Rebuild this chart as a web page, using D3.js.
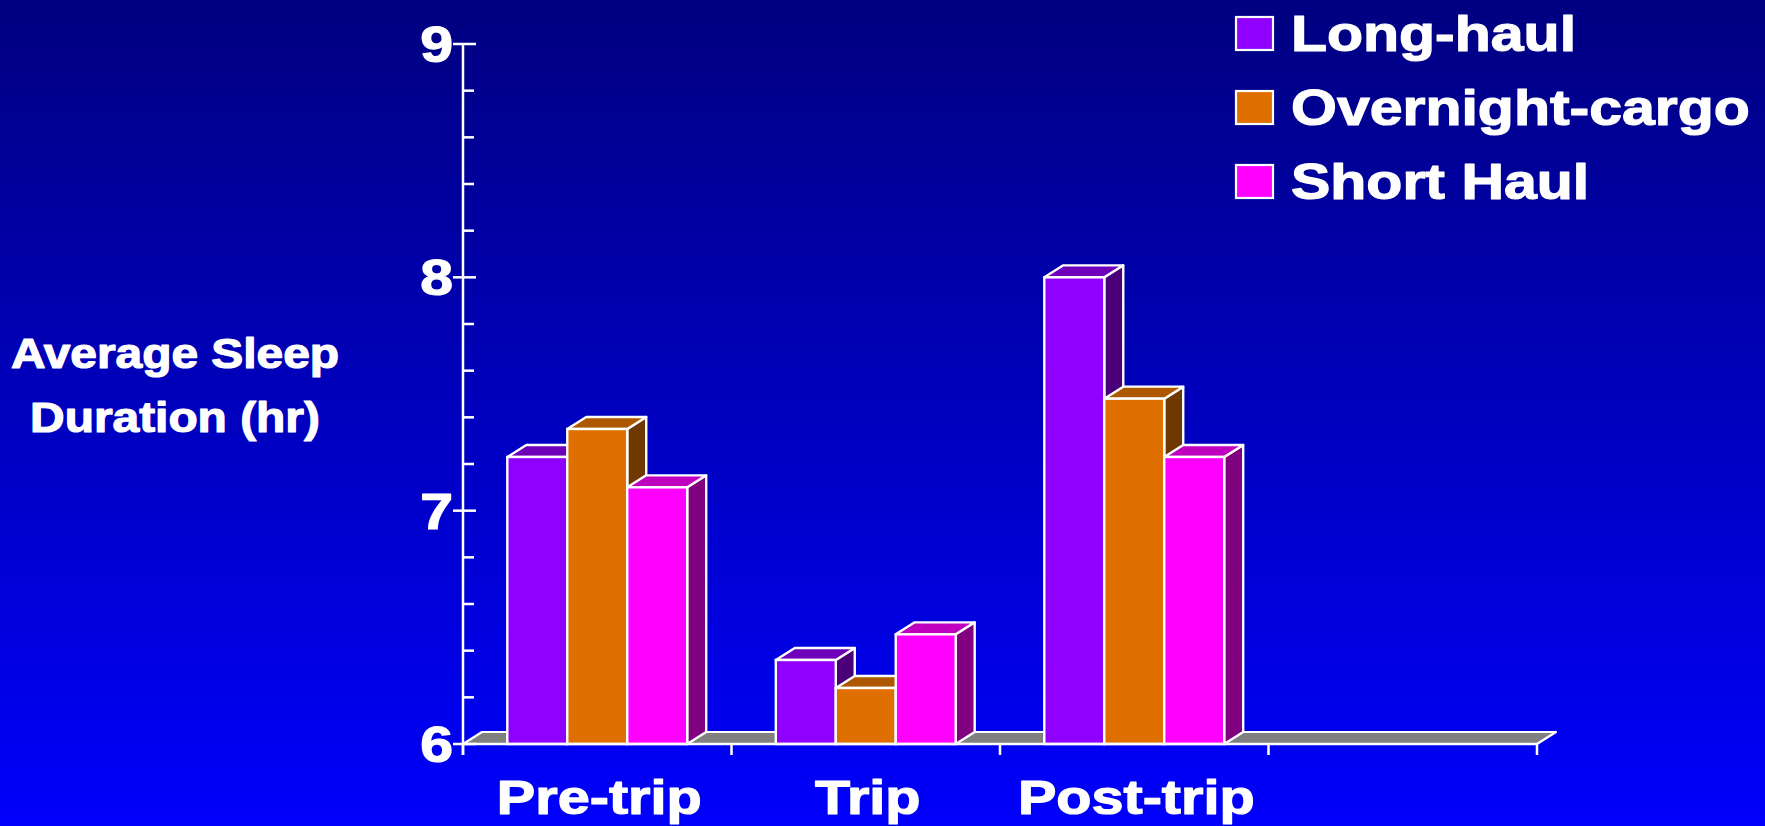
<!DOCTYPE html>
<html>
<head>
<meta charset="utf-8">
<script src="https://cdn.jsdelivr.net/npm/d3@7"></script>
<style>
  html, body { margin: 0; padding: 0; background: #000080; }
  svg { display: block; }
  text { font-family: "Liberation Sans", Arial, Helvetica, sans-serif; font-weight: bold; fill: #ffffff; stroke: #ffffff; stroke-width: 1.2px; stroke-linejoin: round; }
</style>
</head>
<body>
<svg id="chart" width="1765" height="826"></svg>
<script>
// ---- data ----
const categories = ["Pre-trip", "Trip", "Post-trip", ""];
const seriesNames = ["Long-haul", "Overnight-cargo", "Short Haul"];
const longHaul = [7.23, 6.36, 8.00];
const overnightCargo = [7.35, 6.24, 7.48];
const shortHaul = [7.10, 6.47, 7.23];
const yMajorTicks = [6, 7, 8, 9];
const yMinorTicks = [6.2, 6.4, 6.6, 6.8, 7.2, 7.4, 7.6, 7.8, 8.2, 8.4, 8.6, 8.8];
const yTitle = ["Average Sleep", "Duration (hr)"];

const seriesValues = [longHaul, overnightCargo, shortHaul];
const frontColors = ["#8f00ff", "#df7000", "#ff00ff"];
const topColors   = ["#6e00ba", "#ad5800", "#bf00bf"];
const sideColors  = ["#4a0078", "#6e3800", "#800080"];

// ---- layout ----
const W = 1765, H = 826;
const svg = d3.select("#chart");
const defs = svg.append("defs");
const grad = defs.append("linearGradient").attr("id", "bg").attr("x1", 0).attr("y1", 0).attr("x2", 0).attr("y2", 1);
grad.append("stop").attr("offset", "0%").attr("stop-color", "#000080");
grad.append("stop").attr("offset", "100%").attr("stop-color", "#0000fc");
svg.append("rect").attr("width", W).attr("height", H).attr("fill", "url(#bg)");

const x0 = 463, x1 = 1537;
const y = d3.scaleLinear().domain([6, 9]).range([744, 44]);
const x = d3.scaleBand().domain(categories).range([x0, x1]).padding(0);
const bw = x.bandwidth();
const xs = d3.scaleBand().domain(seriesNames).range([bw * 0.165, bw * 0.835]).padding(0);
const barW = xs.bandwidth();
const DX = 19, DY = -12;
const baseY = y(6);

// floor
svg.append("path")
  .attr("d", `M${x0},${baseY} L${x0 + DX},${baseY + DY} L${x1 + DX},${baseY + DY} L${x1},${baseY} Z`)
  .attr("fill", "#808080").attr("stroke", "#ffffff").attr("stroke-width", 2.2).attr("stroke-linejoin", "round");

// bars
const bars = [];
categories.forEach((c, ci) => {
  seriesNames.forEach((s, si) => {
    const v = seriesValues[si][ci];
    if (v === undefined) return;
    bars.push({ c, s, si, v });
  });
});
const gBars = svg.append("g");
bars.forEach(d => {
  const bx = x(d.c) + xs(d.s);
  const ty = y(d.v);
  const g = gBars.append("g");
  const sw = 2.4;
  g.append("path")
    .attr("d", `M${bx + barW},${baseY} L${bx + barW + DX},${baseY + DY} L${bx + barW + DX},${ty + DY} L${bx + barW},${ty} Z`)
    .attr("fill", sideColors[d.si]).attr("stroke", "#fff").attr("stroke-width", sw).attr("stroke-linejoin", "round");
  g.append("path")
    .attr("d", `M${bx},${ty} L${bx + DX},${ty + DY} L${bx + barW + DX},${ty + DY} L${bx + barW},${ty} Z`)
    .attr("fill", topColors[d.si]).attr("stroke", "#fff").attr("stroke-width", sw).attr("stroke-linejoin", "round");
  g.append("rect")
    .attr("x", bx).attr("y", ty).attr("width", barW).attr("height", baseY - ty)
    .attr("fill", frontColors[d.si]).attr("stroke", "#fff").attr("stroke-width", sw);
});

// axes
const axG = svg.append("g").attr("stroke", "#fff").attr("stroke-width", 2.5);
axG.append("line").attr("x1", x0).attr("x2", x1).attr("y1", baseY).attr("y2", baseY);
const bounds = categories.map(c => x(c)).concat([x1]);
axG.selectAll("line.xt").data(bounds).enter().append("line")
  .attr("x1", d => d).attr("x2", d => d).attr("y1", baseY).attr("y2", baseY + 11);
axG.append("line").attr("x1", x0).attr("x2", x0).attr("y1", y(9)).attr("y2", baseY + 11);
axG.selectAll("line.minor").data(yMinorTicks).enter().append("line")
  .attr("x1", x0).attr("x2", x0 + 11).attr("y1", d => y(d)).attr("y2", d => y(d));
axG.selectAll("line.major").data(yMajorTicks).enter().append("line")
  .attr("x1", x0 - 10).attr("x2", x0 + 13).attr("y1", d => y(d)).attr("y2", d => y(d));

// y tick labels
svg.selectAll("g.ylab").data(yMajorTicks).enter().append("g")
  .attr("transform", d => `translate(${x0 - 10},${y(d) + 18}) scale(1.18,1)`)
  .append("text").attr("text-anchor", "end").attr("font-size", 50).text(d => d3.format("d")(d));

// x labels
svg.selectAll("g.xlab").data(categories.filter(c => c)).enter().append("g")
  .attr("transform", d => `translate(${x(d) + bw / 2 + 2},${baseY + 70}) scale(1.2,1)`)
  .append("text").attr("text-anchor", "middle").attr("font-size", 48).text(d => d);

// y title
yTitle.forEach((t, i) => {
  svg.append("g").attr("transform", `translate(175,${368 + i * 64}) scale(1.14,1)`)
    .append("text").attr("text-anchor", "middle").attr("font-size", 42).text(t);
});

// legend
const lg = svg.append("g");
seriesNames.forEach((s, i) => {
  const ly = 17 + i * 74;
  lg.append("rect").attr("x", 1236).attr("y", ly).attr("width", 37).attr("height", 33)
    .attr("fill", frontColors[i]).attr("stroke", "#fff").attr("stroke-width", 2.2);
  lg.append("g").attr("transform", `translate(1291,${ly + 34}) scale(1.18,1)`)
    .append("text").attr("font-size", 50).text(s);
});
</script>
</body>
</html>
